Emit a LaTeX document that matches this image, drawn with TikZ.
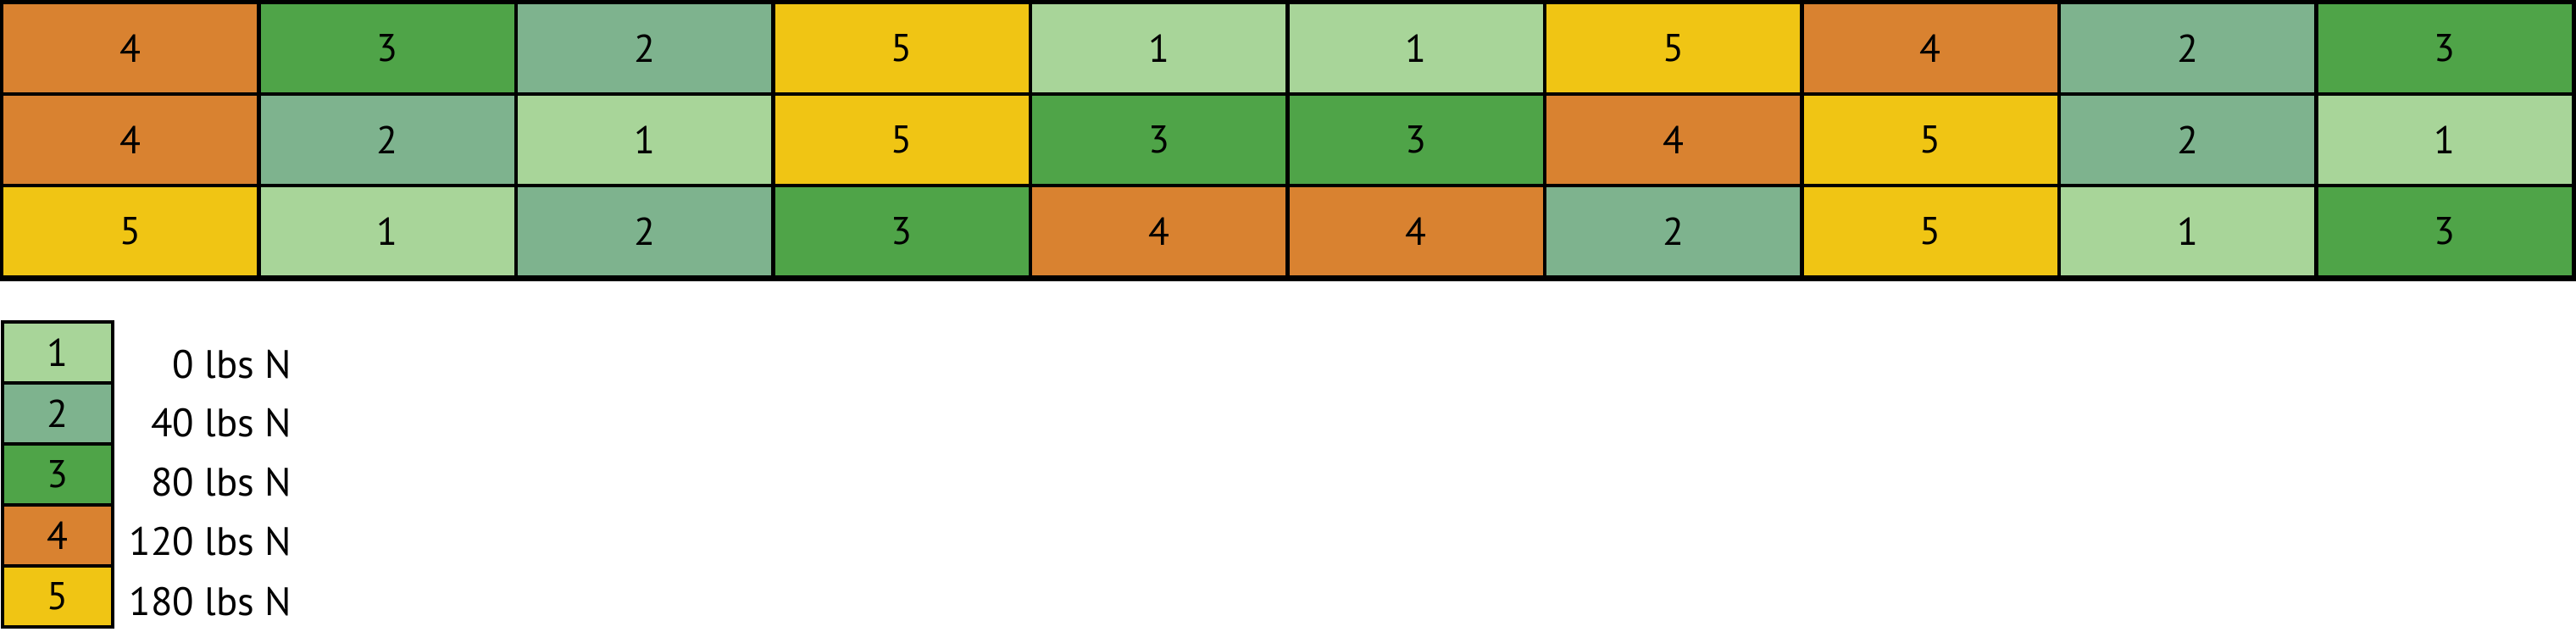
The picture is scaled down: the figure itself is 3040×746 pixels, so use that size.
\documentclass[tikz,border=0pt]{standalone}
\usepackage{fontspec}
\setmainfont{PT Sans}
\usetikzlibrary{positioning}

\definecolor{lvlA}{RGB}{168,213,153}
\definecolor{lvlB}{RGB}{126,179,142}
\definecolor{lvlC}{RGB}{79,164,72}
\definecolor{lvlD}{RGB}{217,130,48}
\definecolor{lvlE}{RGB}{240,197,20}

\tikzset{
  cell/.style={draw=black, line width=1.3pt, minimum width=3.035cm, minimum height=1.08cm, inner sep=0pt, font=\fontsize{13}{13}\selectfont},
  keybox/.style={draw=black, line width=1.3pt, minimum width=1.3cm, minimum height=0.72cm, inner sep=0pt, font=\fontsize{13}{13}\selectfont},
  keytext/.style={anchor=east, inner sep=0pt, font=\fontsize{13.3}{13.3}\selectfont}
}

\newcommand{\lvlcolor}[1]{\ifcase#1\or lvlA\or lvlB\or lvlC\or lvlD\or lvlE\fi}

\begin{document}
\begin{tikzpicture}[x=0.01cm,y=-0.01cm]

\useasboundingbox (0,0) rectangle (3040,746);

% field plots
\foreach \v [count=\c] in {4,3,2,5,1,1,5,4,2,3} {
\node[cell, fill=\lvlcolor{\v}] (a\c) at ({2+303.5*(\c-0.5)},57) {\v};
}
\foreach \v [count=\c] in {4,2,1,5,3,3,4,5,2,1} {
\node[cell, fill=\lvlcolor{\v}] (b\c) at ({2+303.5*(\c-0.5)},165) {\v};
}
\foreach \v [count=\c] in {5,1,2,3,4,4,2,5,1,3} {
\node[cell, fill=\lvlcolor{\v}] (c\c) at ({2+303.5*(\c-0.5)},273) {\v};
}
\draw[line width=1.8pt] (a1.north west) rectangle (c10.south east);

% legend
\node[keybox, fill=lvlA] (k1) at (68,416) {1};
\node[keybox, fill=lvlB] (k2) at (68,488) {2};
\node[keybox, fill=lvlC] (k3) at (68,560) {3};
\node[keybox, fill=lvlD] (k4) at (68,632) {4};
\node[keybox, fill=lvlE] (k5) at (68,704) {5};

\node[keytext] (t1) at (345,430) {0 lbs N};
\node[keytext] (t2) at (345,499) {40 lbs N};
\node[keytext] (t3) at (345,569) {80 lbs N};
\node[keytext] (t4) at (345,639) {120 lbs N};
\node[keytext] (t5) at (345,710) {180 lbs N};

\end{tikzpicture}
\end{document}
